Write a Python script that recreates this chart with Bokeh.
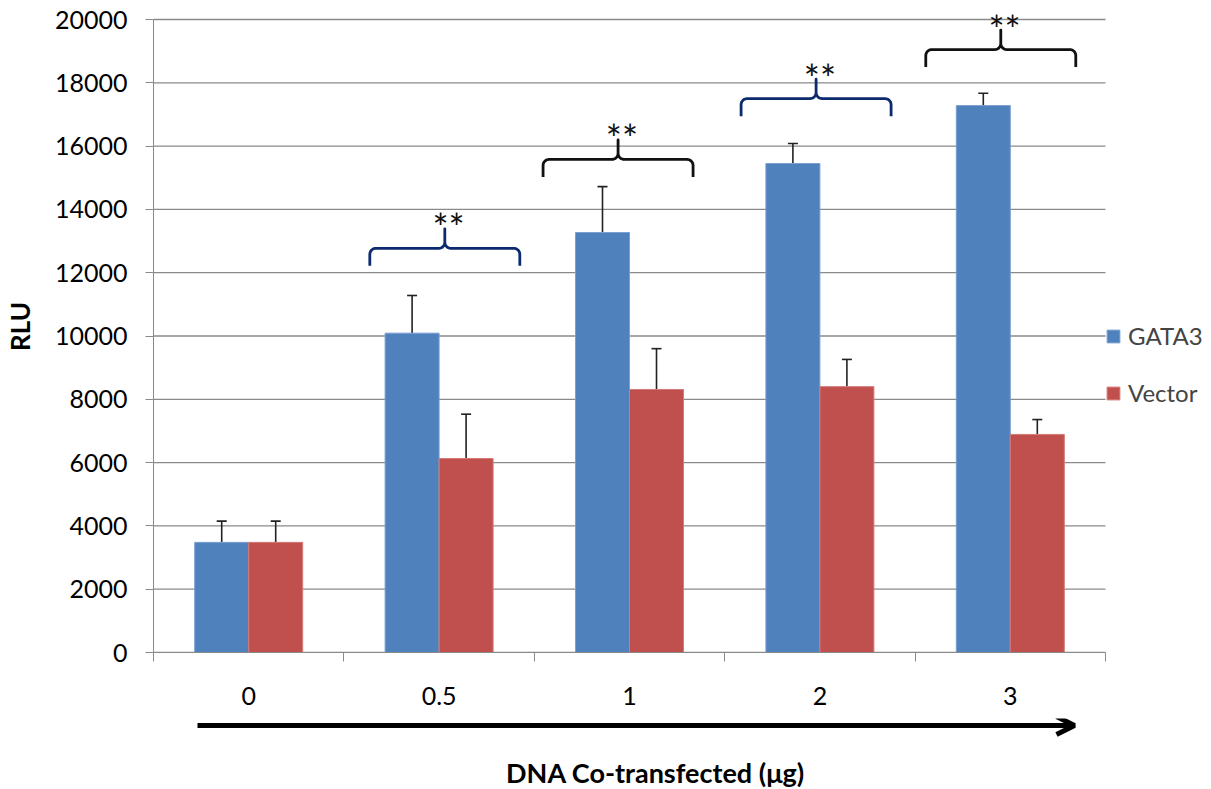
import numpy as np
from bokeh.plotting import figure
from bokeh.layouts import column
from bokeh.models import (ColumnDataSource, Range1d, FixedTicker, Whisker, TeeHead,
                          Legend, LegendItem, Label, Arrow, OpenHead)
from bokeh.embed import file_html
from bokeh.resources import INLINE

# ---------------- data ----------------
categories = ["0", "0.5", "1", "2", "3"]
series_names = ["GATA3", "Vector"]
gata3 = [3480, 10090, 13270, 15450, 17280]
gata3_err = [670, 1190, 1450, 630, 390]
vector = [3480, 6130, 8310, 8400, 6890]
vector_err = [670, 1400, 1290, 860, 470]
y_ticks = [0, 2000, 4000, 6000, 8000, 10000, 12000, 14000, 16000, 18000, 20000]

# significance brackets (annotation)
brace_x = [1.03, 1.94, 2.98, 3.95]
brace_y = [12770, 15580, 17500, 19050]
brace_colors = ["#0c2a6e", "#111111", "#0c2a6e", "#111111"]
sig_labels = ["**", "**", "**", "**"]

x_title = "DNA Co-transfected (\u03bcg)"
y_title = "RLU"

# ---------------- styling ----------------
FONT = "Lato"
BLUE = "#4F81BD"
RED = "#C0504D"
GRID = "#8a8a8a"
W = 1211
H1, H2 = 718, 71
FL, PR, PT, FB = 153, 1105, 19, 652    # plot-area left/right/top/bottom in canvas px
cat_px = (PR - FL) / 5.0               # pixels per category
ypx = 20000.0 / (FB - PT)              # data units per pixel (y)
xpx = 1.0 / cat_px                     # data units per pixel (x)
bw = 0.2836

x_lo, x_hi = -0.5, len(categories) - 0.5
y_lo, y_hi = 0, 20000
p = figure(width=W, height=H1,
           x_range=Range1d(x_lo, x_hi + (W - PR) * xpx),
           y_range=Range1d(y_lo, y_hi + PT * ypx),
           output_backend="svg", toolbar_location=None,
           min_border_left=FL, min_border_right=0, min_border_top=0,
           min_border_bottom=H1 - FB)
p.outline_line_color = None
p.background_fill_color = "white"

# horizontal gridlines limited to the plot area
p.segment(x0=[x_lo] * len(y_ticks), x1=[x_hi] * len(y_ticks), y0=y_ticks, y1=y_ticks,
          line_color=GRID, line_width=1.3, level="underlay")

idx = np.arange(len(categories))
src_g = ColumnDataSource(dict(x=idx - bw / 2, top=gata3, upper=np.array(gata3) + np.array(gata3_err)))
src_v = ColumnDataSource(dict(x=idx + bw / 2, top=vector, upper=np.array(vector) + np.array(vector_err)))

r_g = p.vbar(x="x", top="top", width=bw, source=src_g, fill_color=BLUE, line_color="#7a9fd0", line_width=1)
r_v = p.vbar(x="x", top="top", width=bw, source=src_v, fill_color=RED, line_color="#d47a78", line_width=1)

for s in (src_g, src_v):
    w = Whisker(source=s, base="x", lower="top", upper="upper", line_color="#222222", line_width=1.6,
                upper_head=TeeHead(size=10, line_color="#222222", line_width=1.6), lower_head=None)
    p.add_layout(w)

# axes
p.yaxis.ticker = FixedTicker(ticks=y_ticks)
p.yaxis.bounds = (y_lo, y_hi)
p.yaxis.axis_line_color = GRID
p.yaxis.major_tick_line_color = GRID
p.yaxis.major_tick_out = 8
p.yaxis.major_tick_in = 0
p.yaxis.minor_tick_line_color = None
p.yaxis.major_label_text_font = FONT
p.yaxis.major_label_text_font_size = "25px"
p.yaxis.major_label_text_color = "black"
p.yaxis.major_label_standoff = 18
p.yaxis.axis_label = y_title
p.yaxis.axis_label_text_font = FONT
p.yaxis.axis_label_text_font_style = "bold"
p.yaxis.axis_label_text_font_size = "26px"
p.yaxis.axis_label_text_color = "black"
p.yaxis.axis_label_standoff = 16

p.xaxis.ticker = FixedTicker(ticks=list(idx), minor_ticks=list(np.arange(len(categories) + 1) - 0.5))
p.xaxis.bounds = (x_lo, x_hi)
p.xaxis.major_label_overrides = {int(i): c for i, c in zip(idx, categories)}
p.xaxis.axis_line_color = GRID
p.xaxis.major_tick_line_color = None
p.xaxis.major_tick_out = 0
p.xaxis.major_tick_in = 0
p.xaxis.minor_tick_line_color = GRID
p.xaxis.minor_tick_out = 9
p.xaxis.minor_tick_in = 0
p.xaxis.major_label_text_font = FONT
p.xaxis.major_label_text_font_size = "25px"
p.xaxis.major_label_text_color = "black"
p.xaxis.major_label_standoff = 25

p.xgrid.grid_line_color = None
p.ygrid.grid_line_color = None

# legend, just right of the plot area
legend = Legend(items=[LegendItem(label=series_names[0], renderers=[r_g]),
                       LegendItem(label=series_names[1], renderers=[r_v])],
                location=(PR - FL, 245), orientation="vertical", padding=0, margin=0, spacing=28,
                glyph_width=16, glyph_height=16, label_standoff=7,
                label_text_font=FONT, label_text_font_size="24px",
                border_line_color=None, background_fill_alpha=0)
p.add_layout(legend)

# braces
hw, drop, cusp, r = 75 * xpx, 17.5 * ypx, 19.5 * ypx, 6.0
rx, ry = r * xpx, r * ypx


def arc(cx, cy, a0, a1, n=8):
    a = np.linspace(a0, a1, n)
    return list(cx + rx * np.cos(a)), list(cy + ry * np.sin(a))


for bx, by, col, lab in zip(brace_x, brace_y, brace_colors, sig_labels):
    xs, ys = [bx - hw], [by - drop]
    ax_, ay_ = arc(bx - hw + rx, by - ry, np.pi, np.pi / 2); xs += ax_; ys += ay_
    ax_, ay_ = arc(bx - rx, by + ry, -np.pi / 2, 0); xs += ax_; ys += ay_
    xs += [bx]; ys += [by + cusp]
    xs += [bx]; ys += [by + ry]
    ax_, ay_ = arc(bx + rx, by + ry, np.pi, 1.5 * np.pi); xs += ax_; ys += ay_
    ax_, ay_ = arc(bx + hw - rx, by - ry, np.pi / 2, 0); xs += ax_; ys += ay_
    xs += [bx + hw]; ys += [by - drop]
    p.line(xs, ys, line_color=col, line_width=2.8, line_join="round")
    p.add_layout(Label(x=bx + 0.02, y=by + 21 * ypx, text=lab, text_font=FONT,
                       text_font_size="38px", text_align="center", text_baseline="alphabetic",
                       text_color="#111111"))

# lower strip: arrow and x-axis title (x shares the category scale, y in px from strip top)
p2 = figure(width=W, height=H2, x_range=p.x_range, y_range=Range1d(H2, 0),
            output_backend="svg", toolbar_location=None, x_axis_location=None,
            y_axis_location=None, min_border_left=FL, min_border_right=0,
            min_border_top=0, min_border_bottom=0)
p2.outline_line_color = None
p2.xgrid.grid_line_color = None
p2.ygrid.grid_line_color = None
p2.add_layout(Arrow(x_start=x_lo + 44 * xpx, y_start=7, x_end=x_hi - 31 * xpx, y_end=7,
                    line_width=5, line_color="black",
                    start=None, end=OpenHead(size=18, line_width=5, line_color="black")))
p2.add_layout(Label(x=x_lo + (655 - FL) * xpx, y=54, text=x_title,
                    text_font=FONT, text_font_style="bold", text_font_size="27px",
                    text_align="center", text_baseline="middle", text_color="black"))

layout = column(p, p2, spacing=0)
open("out.html", "w").write(file_html(layout, INLINE))
